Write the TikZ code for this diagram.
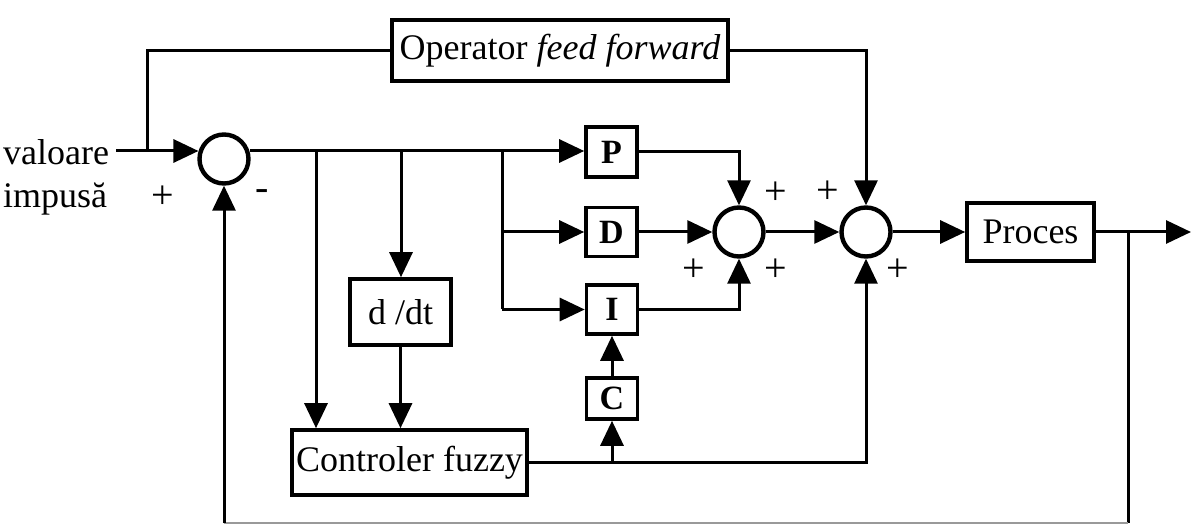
\documentclass[tikz,border=0pt]{standalone}
\usepackage{fontspec}
\setmainfont{Liberation Serif}
\usetikzlibrary{arrows.meta,calc}
\begin{document}
\begin{tikzpicture}[x=1pt,y=-1pt,
  blk/.style={draw, line width=3.6pt, inner sep=0pt, font=\fontsize{36}{40}\selectfont},
  lt/.style={draw, line width=3.6pt, inner sep=0pt, font=\bfseries\fontsize{34}{38}\selectfont, minimum width=51pt},
  sumc/.style={circle, draw, line width=4.4pt, minimum size=49pt, inner sep=0pt},
  ln/.style={line width=3pt},
  arr/.style={ln, -{Triangle[length=25pt,width=23pt]}},
  pm/.style={font=\fontsize{40}{44}\selectfont, inner sep=0pt},
  lbl/.style={anchor=base west, inner sep=0pt, font=\fontsize{36}{40}\selectfont}
]
\useasboundingbox (0,0) rectangle (1191,526);
% blocks
\node[lt, minimum height=50pt] (P) at (611.5,152) {P};
\node[lt, minimum height=49pt] (D) at (611.5,232) {D};
\node[lt, minimum height=49pt] (I) at (612,309.5) {I};
\node[lt, minimum height=41pt] (C) at (612,398.5) {C};
\node[blk, minimum width=101pt, minimum height=66pt] (ddt) at (400.5,312) {d /dt};
\node[blk, minimum width=235pt, minimum height=65pt] (fz) at (409.5,462.5) {Controler fuzzy};
\node[blk, minimum width=336pt, minimum height=61pt] (ff) at (560,50.5) {Operator \textit{feed forward}};
\node[blk, minimum width=127pt, minimum height=58pt] (pr) at (1030.5,232) {Proces};
\node[sumc] (s1) at (224,159) {};
\node[sumc] (s2) at (739,232) {};
\node[sumc] (s3) at (866,232) {};
% labels
\node[lbl] (v1) at (3,165) {valoare};
\node[lbl] (v2) at (3,208) {impusă};
\node[pm] (p1) at (163,197) {+};
\node[pm] (m1) at (262,195) {-};
\node[pm] (p2) at (776,193) {+};
\node[pm] (p3) at (694,270) {+};
\node[pm] (p4) at (776,270) {+};
\node[pm] (p5) at (828,192) {+};
\node[pm] (p6) at (898,270) {+};
% junctions
\coordinate (vin) at (116,151);
\coordinate (jff) at (147,151);
\coordinate (j1) at (316,151);
\coordinate (j2) at (401,151);
\coordinate (j3) at (502,151);
\coordinate (jd) at (502,232);
\coordinate (ji) at (502,309.5);
\coordinate (jo) at (1128,232);
\coordinate (out) at (1191,232);
\coordinate (fb1) at (1128,523);
\coordinate (fb2) at (224,523);
% connectors
\draw[arr] (vin) -- (vin -| s1.163);
\draw[arr] (s1.17 |- j1) -- (P.west |- j1);
\draw[ln] (jff) |- (ff.west);
\draw[arr] (ff.east) -| (s3.north);
\draw[arr] (j1) -- (j1 |- fz.north);
\draw[arr] (j2) -- (j2 |- ddt.north);
\draw[arr] (ddt.south) -- (ddt.south |- fz.north);
\draw[ln] (j3) -- (ji);
\draw[arr] (jd) -- (D.west);
\draw[arr] (ji) -- (I.west);
\draw[arr] (P.east) -| (s2.north);
\draw[arr] (D.east) -- (s2.west);
\draw[arr] (I.east) -| (s2.south);
\draw[arr] (s2.east) -- (s3.west);
\draw[arr] (s3.east) -- (pr.west);
\draw[arr] (pr.east) -- (out);
\draw[ln] (jo) -- (fb1);
\draw[line width=2pt, black!40] (fb1) -- (fb2);
\draw[arr] (fb2) -- (s1.south);
\draw[arr] (fz.east) -| (s3.south);
\draw[arr] (C.south |- fz.east) -- (C.south);
\draw[arr] (C.north) -- (I.south);
\end{tikzpicture}
\end{document}
